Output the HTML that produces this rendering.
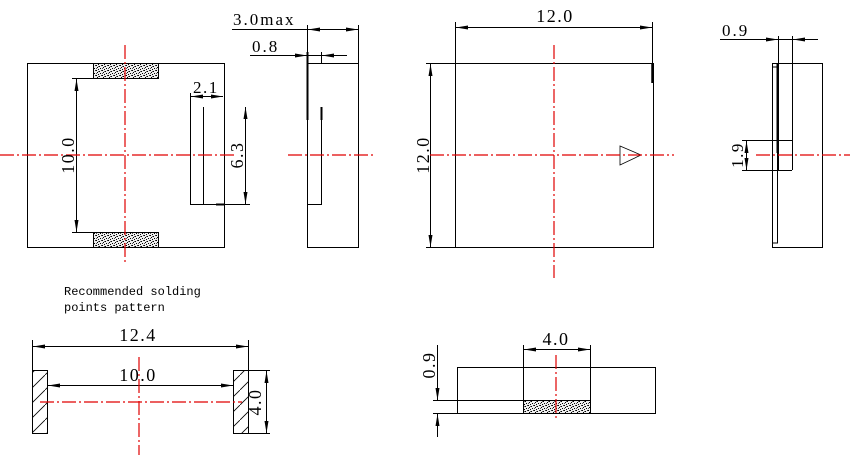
<!DOCTYPE html>
<html><head><meta charset="utf-8"><style>html,body{margin:0;padding:0;background:#fff}svg{display:block}</style></head>
<body>
<svg width="865" height="455" viewBox="0 0 865 455" xmlns="http://www.w3.org/2000/svg" font-family="Liberation Serif, serif">
<defs>
<pattern id="dots" width="6" height="5" patternUnits="userSpaceOnUse">
<rect width="6" height="5" fill="#eee"/>
<rect x="0" y="0" width="1" height="1" fill="#000"/><rect x="3" y="1" width="1" height="1" fill="#000"/>
<rect x="1" y="2" width="1" height="1" fill="#000"/><rect x="4" y="3" width="1" height="1" fill="#000"/>
<rect x="2" y="4" width="1" height="1" fill="#000"/><rect x="5" y="0" width="1" height="1" fill="#333"/>
<rect x="0" y="3" width="1" height="1" fill="#555"/><rect x="2" y="1" width="1" height="1" fill="#666"/>
</pattern>
<pattern id="hatch" width="15" height="15" patternUnits="userSpaceOnUse">
<path d="M0 15 L15 0" stroke="#000" stroke-width="0.8"/>
</pattern>
<marker id="a" viewBox="0 0 12 6" refX="12" refY="3" markerWidth="12" markerHeight="6" orient="auto-start-reverse" markerUnits="userSpaceOnUse"><path d="M0 1 L12 3 L0 5z" fill="#000"/></marker>
</defs>
<g stroke="#000" stroke-width="1" fill="none">
<rect x="27.5" y="63.5" width="197" height="184"/>
<rect x="93.5" y="63.5" width="65" height="15" fill="url(#dots)"/>
<rect x="93.5" y="232.5" width="65" height="15" fill="url(#dots)"/>
<path d="M72 78.5H93M72 232.5H93"/>
<path d="M76.5 79V232" marker-start="url(#a)" marker-end="url(#a)"/>
<path d="M190.5 93V204.5H250M203.5 107V204"/>
<path d="M216 204.5H224" stroke-width="2"/>
<path d="M191 96.5H223" marker-start="url(#a)" marker-end="url(#a)"/>
<path d="M245.5 107V204" marker-start="url(#a)" marker-end="url(#a)"/>
<rect x="307.5" y="63.5" width="51" height="184"/>
<path d="M307.5 204.5H321.5V107M307.5 25V63M358.5 25V63M232 29.5H358M250 55.5H347M321.5 52V63"/>
<path d="M307.5 52V120M321.5 107V120" stroke-width="2"/>
<path d="M320 29.5H308" marker-end="url(#a)"/><path d="M345 29.5H358" marker-end="url(#a)"/>
<path d="M295 55.5H307" marker-end="url(#a)"/><path d="M346 55.5H322" marker-end="url(#a)"/>
<rect x="455.5" y="63.5" width="198" height="184"/>
<path d="M455.5 22V63M652.5 22V63M426 63.5H455M426 247.5H455"/>
<path d="M652.5 63V83" stroke-width="2.5"/>
<path d="M456 27.5H652" marker-start="url(#a)" marker-end="url(#a)"/>
<path d="M430.5 64V247" marker-start="url(#a)" marker-end="url(#a)"/>
<path d="M620 146L641 155L620 165Z" stroke-width="0.8"/>
<rect x="772.5" y="63.5" width="50" height="184"/>
<rect x="772.5" y="67" width="5" height="176"/>
<path d="M778.5 36V170M792.5 36V170M742 140.5H792M742 170.5H792M720 39.5H818"/>
<path d="M777.5 63V153" stroke-width="2"/>
<path d="M765 39.5H778" marker-end="url(#a)"/><path d="M805 39.5H793" marker-end="url(#a)"/>
<path d="M746.5 141V170" marker-start="url(#a)" marker-end="url(#a)"/>
<rect x="32.5" y="370.5" width="15" height="63" fill="url(#hatch)"/>
<rect x="233.5" y="370.5" width="15" height="63" fill="url(#hatch)"/>
<path d="M32.5 340V370M248.5 340V370M248 370.5H270M248 433.5H270"/>
<path d="M33 346.5H248" marker-start="url(#a)" marker-end="url(#a)"/>
<path d="M48 385.5H233" marker-start="url(#a)" marker-end="url(#a)"/>
<path d="M266.5 371V433" marker-start="url(#a)" marker-end="url(#a)"/>
<rect x="457.5" y="367.5" width="198" height="46"/>
<rect x="523.5" y="400.5" width="67" height="13" fill="url(#dots)"/>
<path d="M523.5 345V400M590.5 345V400M433 400.5H523M433 413.5H457"/>
<path d="M524 349.5H590" marker-start="url(#a)" marker-end="url(#a)"/>
<path d="M437.5 345V400" marker-end="url(#a)"/><path d="M437.5 437V414" marker-end="url(#a)"/>
</g>
<g stroke="#e00000" stroke-width="1.2" fill="none" stroke-dasharray="14 3 2 3">
<path d="M125 45V262M0 155H237"/>
<path d="M288 155H373"/>
<path d="M554 45V278M430 155H674"/>
<path d="M756 155H850"/>
<path d="M40 402H242M139 357V455"/>
<path d="M556 355V420"/>
</g>
<g fill="#000" font-size="18" letter-spacing="1.5">
<text x="233" y="25" font-size="17" letter-spacing="2">3.0max</text>
<text x="252" y="52" font-size="17" letter-spacing="2">0.8</text>
<text x="193" y="93" font-size="17">2.1</text>
<text transform="translate(74,155) rotate(-90)" text-anchor="middle">10.0</text>
<text transform="translate(243,155) rotate(-90)" text-anchor="middle">6.3</text>
<text x="555" y="22" text-anchor="middle">12.0</text>
<text transform="translate(429,155) rotate(-90)" text-anchor="middle">12.0</text>
<text x="722" y="36" font-size="17" letter-spacing="2">0.9</text>
<text transform="translate(743,155) rotate(-90)" text-anchor="middle" font-size="17">1.9</text>
<text x="138" y="341" text-anchor="middle">12.4</text>
<text x="138" y="381" text-anchor="middle">10.0</text>
<text transform="translate(261,402) rotate(-90)" text-anchor="middle">4.0</text>
<text x="556" y="345" text-anchor="middle">4.0</text>
<text transform="translate(435,365) rotate(-90)" text-anchor="middle">0.9</text>
<text x="64" y="295" font-size="12" letter-spacing="0" font-family="Liberation Mono, monospace">Recommended solding</text>
<text x="64" y="311" font-size="12" letter-spacing="0" font-family="Liberation Mono, monospace">points pattern</text>
</g>
</svg>
</body></html>
